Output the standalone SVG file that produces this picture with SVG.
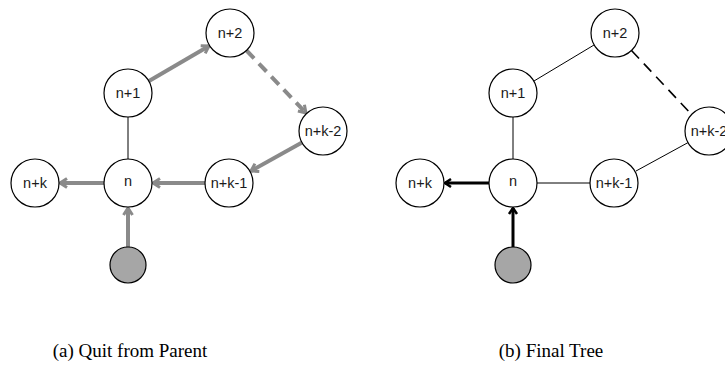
<svg xmlns="http://www.w3.org/2000/svg" width="725" height="375" viewBox="0 0 725 375">
<defs>
<style>
.node{fill:#fff;stroke:#000;stroke-width:1.2}
.root{fill:#a6a6a6;stroke:#000;stroke-width:1.2}
.lbl{font-family:"Liberation Sans",Arial,sans-serif;font-size:14.5px;fill:#1a1a1a;text-anchor:middle}
.cap{font-family:"Liberation Serif","DejaVu Serif",serif;font-size:19px;fill:#000;text-anchor:middle}
.thin{stroke:#000;stroke-width:1;fill:none}
.g{stroke:#8a8a8a;stroke-width:4;fill:none}
.gd{stroke:#8a8a8a;stroke-width:4;fill:none;stroke-dasharray:11 7}
.b{stroke:#000;stroke-width:3;fill:none}
.bd{stroke:#000;stroke-width:1.6;fill:none;stroke-dasharray:11 7}
</style>
<marker id="ag" viewBox="-10 -6 12 12" refX="0" refY="0" markerWidth="12" markerHeight="12" markerUnits="userSpaceOnUse" orient="auto">
<path d="M-7,-4.5 L0,0 L-7,4.5" fill="none" stroke="#8a8a8a" stroke-width="3"/>
</marker>
<marker id="ab" viewBox="-10 -6 12 12" refX="0" refY="0" markerWidth="12" markerHeight="12" markerUnits="userSpaceOnUse" orient="auto">
<path d="M-6,-4 L0,0 L-6,4" fill="none" stroke="#000" stroke-width="2.5"/>
</marker>
</defs>
<g id="connectors">
<line class="thin" x1="128" y1="117" x2="128" y2="159"/>
<line class="g" x1="149" y1="81" x2="209" y2="46" marker-end="url(#ag)"/>
<line class="gd" x1="246.5" y1="50.5" x2="306" y2="113" marker-end="url(#ag)"/>
<line class="g" x1="302" y1="142.6" x2="251" y2="171" marker-end="url(#ag)"/>
<line class="g" x1="205" y1="183" x2="153" y2="183" marker-end="url(#ag)"/>
<line class="g" x1="104" y1="183" x2="60" y2="183" marker-end="url(#ag)"/>
<line class="g" x1="128" y1="247" x2="128" y2="208" marker-end="url(#ag)"/>
<line class="thin" x1="513" y1="117" x2="513" y2="159"/>
<line class="thin" x1="534" y1="81" x2="594" y2="45"/>
<line class="bd" x1="631.5" y1="50.5" x2="693" y2="116"/>
<line class="thin" x1="688" y1="142.6" x2="636" y2="171"/>
<line class="thin" x1="590" y1="183" x2="537" y2="183"/>
<line class="b" x1="489" y1="183" x2="445" y2="183" marker-end="url(#ab)"/>
<line class="b" x1="513" y1="247" x2="513" y2="208" marker-end="url(#ab)"/>
</g>
<g id="a-n2"><circle class="node" cx="230" cy="33" r="24"/><text class="lbl" x="230" y="38">n+2</text></g>
<g id="a-n1"><circle class="node" cx="128" cy="93" r="24"/><text class="lbl" x="128" y="98">n+1</text></g>
<g id="a-nk2"><circle class="node" cx="323" cy="131" r="24"/><text class="lbl" x="323" y="136">n+k-2</text></g>
<g id="a-nk1"><circle class="node" cx="229" cy="183" r="24"/><text class="lbl" x="229" y="188">n+k-1</text></g>
<g id="a-n"><circle class="node" cx="128" cy="183" r="24"/><text class="lbl" x="128" y="186">n</text></g>
<g id="a-nk"><circle class="node" cx="35" cy="183" r="24"/><text class="lbl" x="35" y="188">n+k</text></g>
<g id="a-root"><circle class="root" cx="128" cy="265" r="18"/></g>
<g id="b-n2"><circle class="node" cx="615" cy="33" r="24"/><text class="lbl" x="615" y="38">n+2</text></g>
<g id="b-n1"><circle class="node" cx="513" cy="93" r="24"/><text class="lbl" x="513" y="98">n+1</text></g>
<g id="b-nk2"><circle class="node" cx="709" cy="131" r="24"/><text class="lbl" x="709" y="136">n+k-2</text></g>
<g id="b-nk1"><circle class="node" cx="614" cy="183" r="24"/><text class="lbl" x="614" y="188">n+k-1</text></g>
<g id="b-n"><circle class="node" cx="513" cy="183" r="24"/><text class="lbl" x="513" y="186">n</text></g>
<g id="b-nk"><circle class="node" cx="420" cy="183" r="24"/><text class="lbl" x="420" y="188">n+k</text></g>
<g id="b-root"><circle class="root" cx="513" cy="265" r="18"/></g>
<text class="cap" x="130" y="357">(a) Quit from Parent</text>
<text class="cap" x="551" y="357">(b) Final Tree</text>
</svg>
